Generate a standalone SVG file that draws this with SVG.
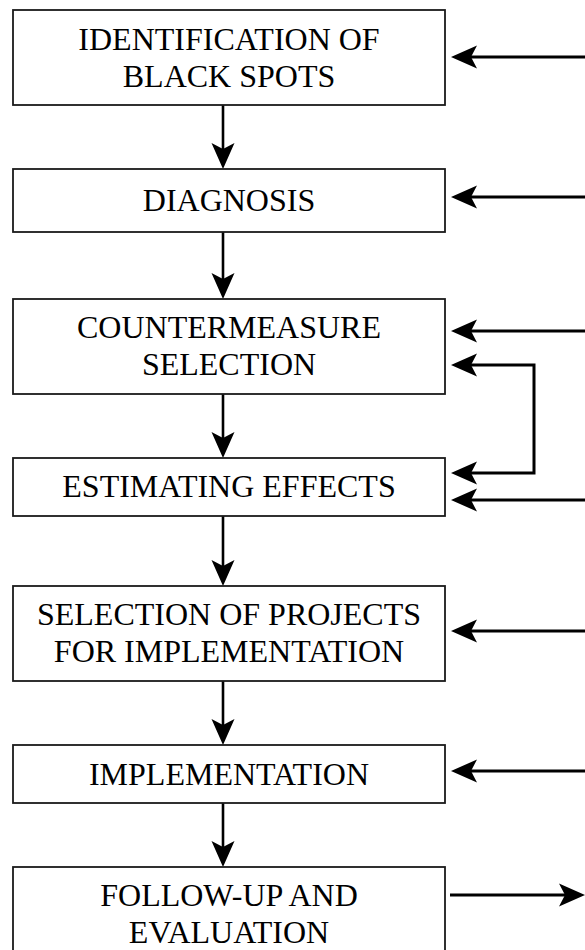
<svg xmlns="http://www.w3.org/2000/svg" width="585" height="950" viewBox="0 0 585 950">
  <style>
    .box { fill: #ffffff; stroke: #1a1a1a; stroke-width: 1.8; }
    .label { font-family: "Liberation Serif", "Times New Roman", serif; font-size: 32px; fill: #000000; text-anchor: middle; }
    .down { fill: none; stroke: #000000; stroke-width: 2.6; marker-end: url(#head); }
    .side { fill: none; stroke: #000000; stroke-width: 3; marker-end: url(#head); }
    .loop { fill: none; stroke: #000000; stroke-width: 3; marker-start: url(#headStart); marker-end: url(#head); }
  </style>
  <defs>
    <!-- notched arrowhead; the line ends at the notch, the tip sits 20px further on -->
    <marker id="head" markerUnits="userSpaceOnUse" viewBox="0 -12 27 24" markerWidth="27" markerHeight="24" refX="6" refY="0" orient="auto">
      <path d="M26,0 L0,-11.5 L6,0 L0,11.5 Z" fill="#000000"/>
    </marker>
    <marker id="headStart" markerUnits="userSpaceOnUse" viewBox="0 -12 27 24" markerWidth="27" markerHeight="24" refX="6" refY="0" orient="auto-start-reverse">
      <path d="M26,0 L0,-11.5 L6,0 L0,11.5 Z" fill="#000000"/>
    </marker>
  </defs>

  <g id="connectors">
    <!-- main downward flow -->
    <path class="down" d="M223,105 V149"/>
    <path class="down" d="M223,232 V279"/>
    <path class="down" d="M223,394 V438"/>
    <path class="down" d="M223,516 V566"/>
    <path class="down" d="M223,681 V725"/>
    <path class="down" d="M223,803 V847"/>
    <!-- inputs entering from the right -->
    <path class="side" d="M585,57 H471"/>
    <path class="side" d="M585,197 H471"/>
    <path class="side" d="M585,331 H471"/>
    <path class="side" d="M585,500 H471"/>
    <path class="side" d="M585,631 H471"/>
    <path class="side" d="M585,771 H471"/>
    <!-- loop between countermeasure selection and estimating effects -->
    <path class="loop" d="M471,365 H534 V473 H471"/>
    <!-- output leaving follow-up -->
    <path class="side" d="M450,895 H565"/>
  </g>

  <g id="identification">
    <rect class="box" x="13" y="10" width="432" height="95"/>
    <text class="label" x="229" y="50">IDENTIFICATION OF</text>
    <text class="label" x="229" y="87">BLACK SPOTS</text>
  </g>

  <g id="diagnosis">
    <rect class="box" x="13" y="169" width="432" height="63"/>
    <text class="label" x="229" y="211">DIAGNOSIS</text>
  </g>

  <g id="countermeasure">
    <rect class="box" x="13" y="299" width="432" height="95"/>
    <text class="label" x="229" y="338">COUNTERMEASURE</text>
    <text class="label" x="229" y="375">SELECTION</text>
  </g>

  <g id="estimating">
    <rect class="box" x="13" y="458" width="432" height="58"/>
    <text class="label" x="229" y="497">ESTIMATING EFFECTS</text>
  </g>

  <g id="project-selection">
    <rect class="box" x="13" y="586" width="432" height="95"/>
    <text class="label" x="229" y="625">SELECTION OF PROJECTS</text>
    <text class="label" x="229" y="662">FOR IMPLEMENTATION</text>
  </g>

  <g id="implementation">
    <rect class="box" x="13" y="745" width="432" height="58"/>
    <text class="label" x="229" y="785">IMPLEMENTATION</text>
  </g>

  <g id="follow-up">
    <rect class="box" x="13" y="867" width="432" height="100"/>
    <text class="label" x="229" y="906">FOLLOW-UP AND</text>
    <text class="label" x="229" y="943">EVALUATION</text>
  </g>
</svg>
